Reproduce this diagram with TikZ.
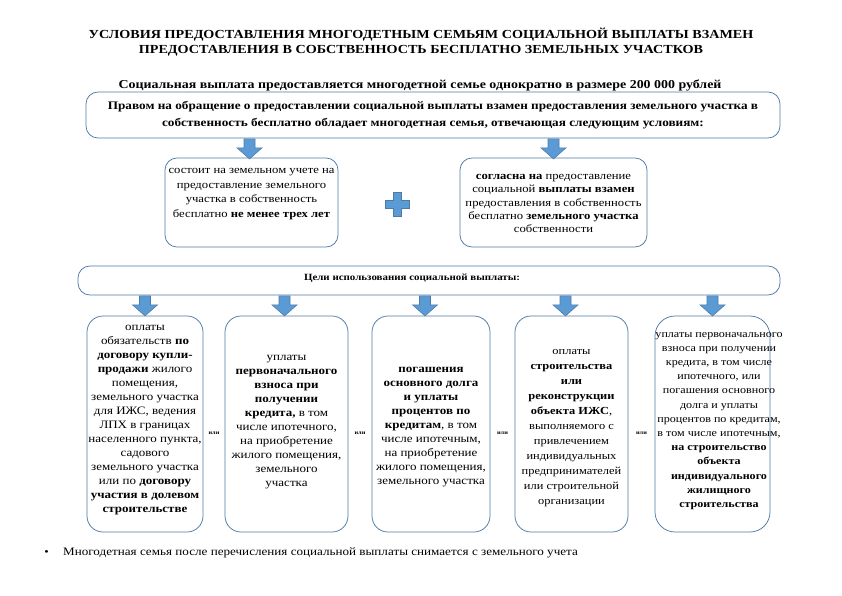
\documentclass[tikz,border=0pt]{standalone}
\usepackage{fontspec}
\setmainfont{Liberation Serif}[FakeStretch=1.15]
\usetikzlibrary{calc}
\definecolor{bordercol}{HTML}{4F7AA5}
\definecolor{arrfillcol}{HTML}{5B9BD5}
\begin{document}
\begin{tikzpicture}[x=1pt,y=-1pt,
  box/.style={draw=bordercol, line width=0.75pt, rounded corners=12pt, inner sep=2pt, align=center},
  lowbox/.style={box, minimum height=216pt, rounded corners=16pt},
  txt/.style={align=center, inner sep=0pt, font=\fontsize{11}{14.5}\selectfont},
  lowtxt/.style={align=center, inner sep=0pt, font=\fontsize{11.3}{14}\selectfont},
  ili/.style={font=\fontsize{5.5}{6}\selectfont\bfseries, inner sep=0pt},
  arrfill/.style={draw=bordercol, fill=arrfillcol, line width=0.6pt},
  darrow/.pic={\draw[arrfill] (-5.5,0.5) -- (5.5,0.5) -- (5.5,9.5) -- (12.5,9.5) -- (0,20.5) -- (-12.5,9.5) -- (-5.5,9.5) -- cycle;}]
\useasboundingbox (0,0) rectangle (842,595);

\node[align=center, inner sep=0pt, font=\fontsize{12.3}{15}\selectfont\bfseries] (title) at (421,42.5)
  {УСЛОВИЯ ПРЕДОСТАВЛЕНИЯ МНОГОДЕТНЫМ СЕМЬЯМ СОЦИАЛЬНОЙ ВЫПЛАТЫ ВЗАМЕН\\
   ПРЕДОСТАВЛЕНИЯ В СОБСТВЕННОСТЬ БЕСПЛАТНО ЗЕМЕЛЬНЫХ УЧАСТКОВ};
\node[inner sep=0pt, font=\fontsize{12.1}{14}\selectfont\bfseries] (sub) at (420,85)
  {Социальная выплата предоставляется многодетной семье однократно в размере 200 000 рублей};

\node[box, minimum width=694pt, minimum height=46pt, font=\fontsize{11.5}{17}\selectfont\bfseries] (top) at (433,115)
  {Правом на обращение о предоставлении социальной выплаты взамен предоставления земельного участка в\\
   собственность бесплатно обладает многодетная семья, отвечающая следующим условиям:};

\node[box, minimum width=173pt, minimum height=89pt] (left) at (251.5,202.5) {};
\node[txt] (lefttxt) at (251.5,194)
  {состоит на земельном учете на\\ предоставление земельного\\ участка в собственность\\ бесплатно \textbf{не менее трех лет}};

\node[box, minimum width=187pt, minimum height=89pt] (right) at (553.5,202.5) {};
\node[txt, font=\fontsize{11}{13.2}\selectfont] (righttxt) at (553.5,203.5)
  {\textbf{согласна на} предоставление\\ социальной \textbf{выплаты взамен}\\ предоставления в собственность\\ бесплатно \textbf{земельного участка}\\ собственности};

\draw[arrfill] (393.3,192.5) -- (401.7,192.5) -- (401.7,200.3) -- (409.5,200.3) -- (409.5,208.7) -- (401.7,208.7) -- (401.7,216.5) -- (393.3,216.5) -- (393.3,208.7) -- (385.5,208.7) -- (385.5,200.3) -- (393.3,200.3) -- cycle;

\pic at ([xshift=-2pt]left.north |- top.south) {darrow};
\pic at (right.north |- top.south) {darrow};

\node[box, minimum width=702pt, minimum height=29pt] (mid) at (429,280.5) {};
\node[inner sep=0pt, font=\fontsize{9.5}{12}\selectfont\bfseries] (midtxt) at (412,278.5)
  {Цели использования социальной выплаты:};

\node[lowbox, minimum width=116pt] (b1) at (145,424) {};
\node[lowbox, minimum width=123pt] (b2) at (286.5,424) {};
\node[lowbox, minimum width=118pt] (b3) at (431,424) {};
\node[lowbox, minimum width=113pt] (b4) at (571.5,424) {};
\node[lowbox, minimum width=115pt, rounded corners=20pt] (b5) at (712.5,424) {};

\node[lowtxt] (t1) at ([yshift=4pt]b1.center)
  {оплаты\\ обязательств \textbf{по}\\ \textbf{договору купли-}\\ \textbf{продажи} жилого\\ помещения,\\ земельного участка\\ для ИЖС, ведения\\ ЛПХ в границах\\ населенного пункта,\\ садового\\ земельного участка\\ или по \textbf{договору}\\ \textbf{участия в долевом}\\ \textbf{строительстве}};
\node[lowtxt] (t2) at ([yshift=2pt]b2.center)
  {уплаты\\ \textbf{первоначального}\\ \textbf{взноса при}\\ \textbf{получении}\\ \textbf{кредита,} в том\\ числе ипотечного,\\ на приобретение\\ жилого помещения,\\ земельного\\ участка};
\node[lowtxt] (t3) at ([yshift=-3pt]b3.center)
  {\textbf{погашения}\\ \textbf{основного долга}\\ \textbf{и уплаты}\\ \textbf{процентов по}\\ \textbf{кредитам}, в том\\ числе ипотечным,\\ на приобретение\\ жилого помещения,\\ земельного участка};
\node[lowtxt, font=\fontsize{10.8}{15}\selectfont] (t4) at ([yshift=-4pt]b4.center)
  {оплаты\\ \textbf{строительства}\\ \textbf{или}\\ \textbf{реконструкции}\\ \textbf{объекта ИЖС},\\ выполняемого с\\ привлечением\\ индивидуальных\\ предпринимателей\\ или строительной\\ организации};
\begin{scope}
\clip (640,300) rectangle (781,545);
\node[lowtxt, font=\fontsize{10.5}{14.2}\selectfont] (t5) at ([xshift=6.5pt,yshift=3pt]b5.center)
  {уплаты первоначального\\ взноса при получении\\ кредита, в том числе\\ ипотечного, или\\ погашения основного\\ долга и уплаты\\ процентов по кредитам,\\ в том числе ипотечным,\\ \textbf{на строительство}\\ \textbf{объекта}\\ \textbf{индивидуального}\\ \textbf{жилищного}\\ \textbf{строительства}};
\end{scope}

\pic at (b1.north |- mid.south) {darrow};
\pic at ([xshift=-2pt]b2.north |- mid.south) {darrow};
\pic at ([xshift=-6pt]b3.north |- mid.south) {darrow};
\pic at ([xshift=-6pt]b4.north |- mid.south) {darrow};
\pic at (b5.north |- mid.south) {darrow};

\node[ili] (or1) at ($(b1.east)!0.5!(b2.west)+(0,9)$) {или};
\node[ili] (or2) at ($(b2.east)!0.5!(b3.west)+(0,9)$) {или};
\node[ili] (or3) at ($(b3.east)!0.5!(b4.west)+(0,9)$) {или};
\node[ili] (or4) at ($(b4.east)!0.5!(b5.west)+(0,9)$) {или};

\node[inner sep=0pt, font=\fontsize{11}{12}\selectfont] (bullet) at (46.5,553) {\textbullet};
\node[inner sep=0pt, anchor=west, font=\fontsize{11.4}{12}\selectfont] (note) at (63,553)
  {Многодетная семья после перечисления социальной выплаты снимается с земельного учета};
\end{tikzpicture}
\end{document}
